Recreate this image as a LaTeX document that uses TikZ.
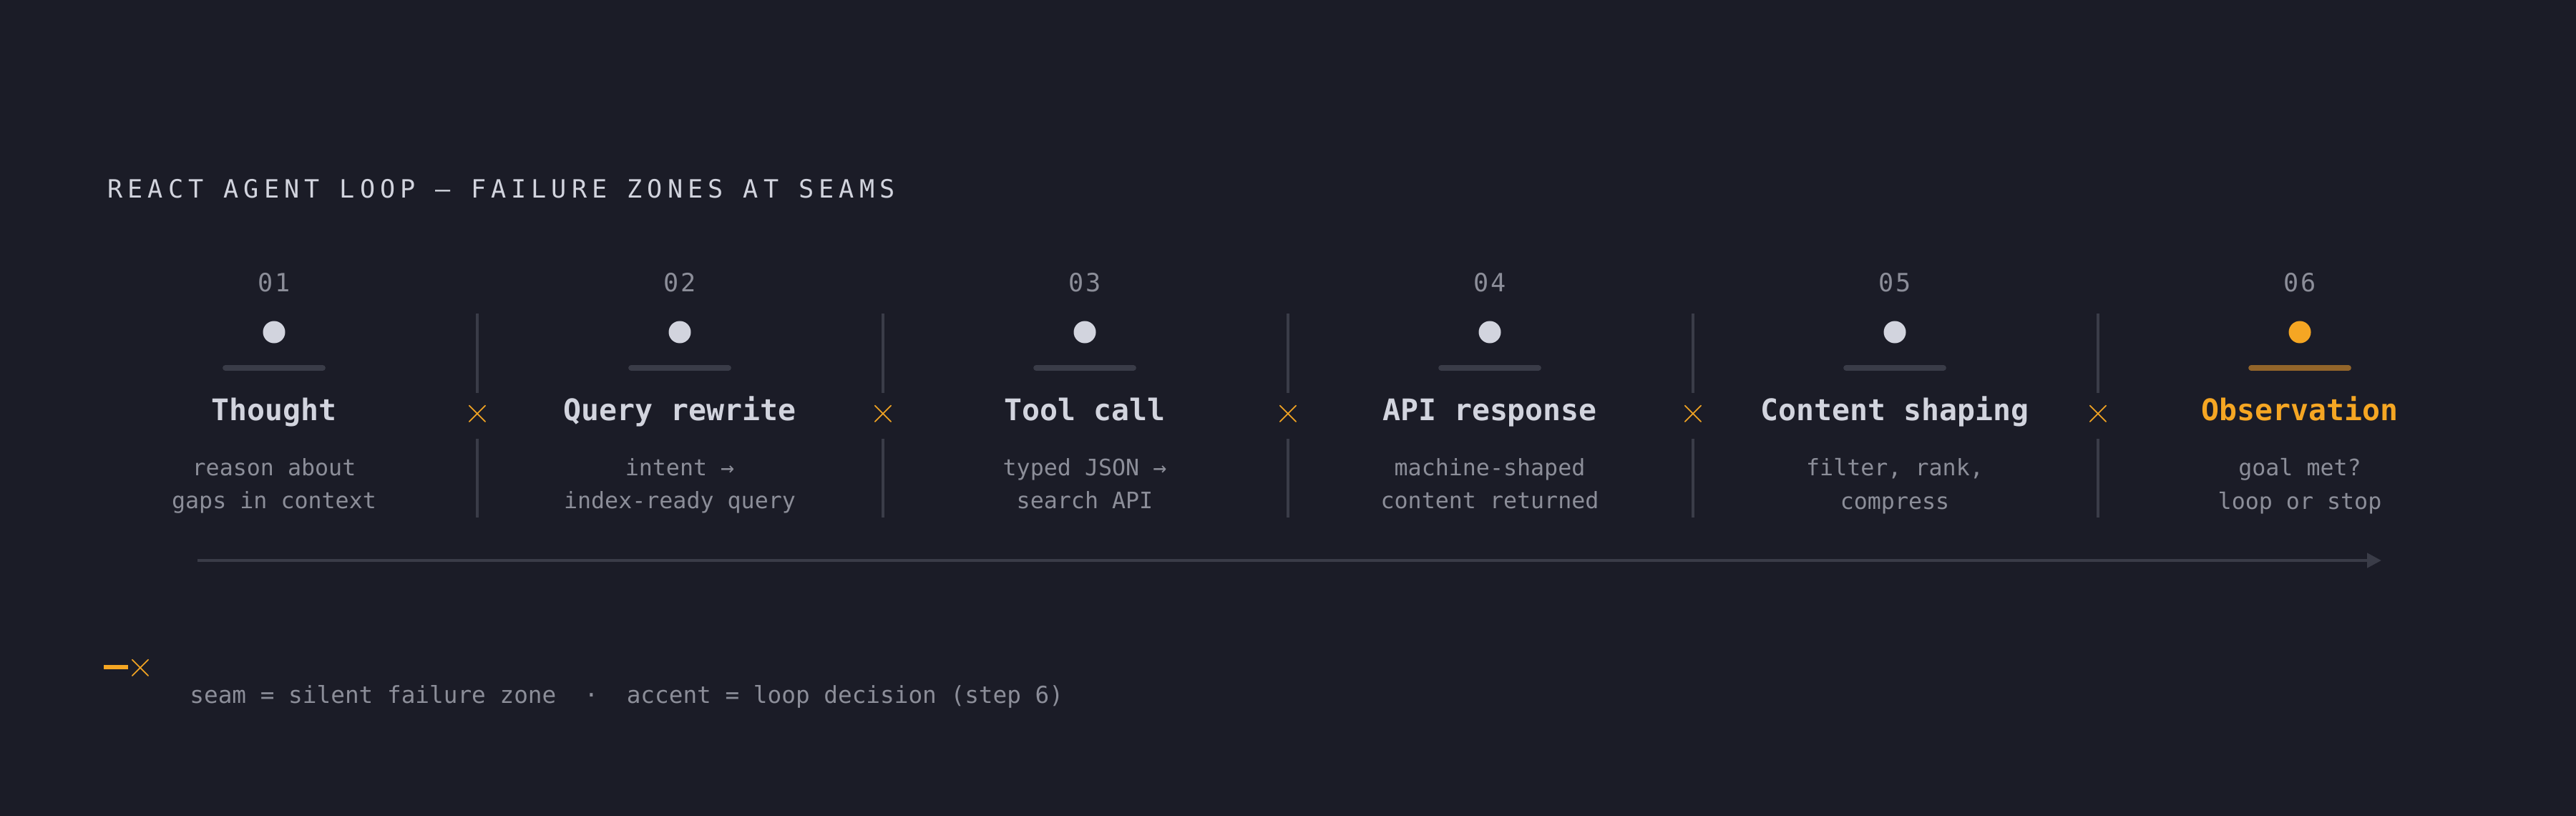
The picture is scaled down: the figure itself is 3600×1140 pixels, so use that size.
\documentclass[tikz,border=0pt]{standalone}
\usepackage{fontspec}
\setmonofont{DejaVu Sans Mono}
\usetikzlibrary{arrows.meta}
\definecolor{bgc}{HTML}{1B1C27}
\definecolor{inkc}{HTML}{D2D4DE}
\definecolor{dimc}{HTML}{8C8E99}
\definecolor{railc}{HTML}{3A3C48}
\definecolor{accc}{HTML}{F5A623}
\definecolor{accbar}{HTML}{93652A}
\tikzset{
  num/.style={text=dimc, font=\ttfamily\fontsize{10}{12}\selectfont\addfontfeature{LetterSpace=6}},
  head/.style={text=inkc, text height=0.3cm, text depth=0.08cm, font=\ttfamily\bfseries\fontsize{11.8}{14}\selectfont},
  desc/.style={text=dimc, align=center, font=\ttfamily\fontsize{9}{13.2}\selectfont},
  seam/.style={railc, line width=1pt},
  cross/.style={text=accc, font=\fontsize{15}{15}\selectfont},
  bar/.style={railc, line width=2.2pt, line cap=round},
  dot/.style={circle, fill=inkc, inner sep=0pt, minimum size=0.31cm},
}
\begin{document}
\begin{tikzpicture}[x=0.01cm,y=-0.01cm]
	\fill[bgc] (0,0) rectangle (3600,1140);
	\useasboundingbox (0,0) rectangle (3600,1140);
	\node[anchor=west, text=inkc, font=\ttfamily\fontsize{10}{12}\selectfont\addfontfeature{LetterSpace=20}] (title) at (138,264) {REACT AGENT LOOP — FAILURE ZONES AT SEAMS};
	% step 1
	\node[num] (n1) at (383,395) {01};
	\node[dot] (d1) at (383,464) {};
	\draw[bar] (315,514) -- (451,514);
	\node[head] (h1) at (383,576) {Thought};
	\node[desc, anchor=north] (t1) at (383,628) {reason about\\gaps in context};
	% step 2
	\node[num] (n2) at (950,395) {02};
	\node[dot] (d2) at (950,464) {};
	\draw[bar] (882,514) -- (1018,514);
	\node[head] (h2) at (950,576) {Query rewrite};
	\node[desc, anchor=north] (t2) at (950,628) {intent \textrightarrow\\index-ready query};
	% step 3
	\node[num] (n3) at (1516,395) {03};
	\node[dot] (d3) at (1516,464) {};
	\draw[bar] (1448,514) -- (1584,514);
	\node[head] (h3) at (1516,576) {Tool call};
	\node[desc, anchor=north] (t3) at (1516,628) {typed JSON \textrightarrow\\search API};
	% step 4
	\node[num] (n4) at (2082,395) {04};
	\node[dot] (d4) at (2082,464) {};
	\draw[bar] (2014,514) -- (2150,514);
	\node[head] (h4) at (2082,576) {API response};
	\node[desc, anchor=north] (t4) at (2082,628) {machine-shaped\\content returned};
	% step 5
	\node[num] (n5) at (2648,395) {05};
	\node[dot] (d5) at (2648,464) {};
	\draw[bar] (2580,514) -- (2716,514);
	\node[head] (h5) at (2648,576) {Content shaping};
	\node[desc, anchor=north] (t5) at (2648,628) {filter, rank,\\compress};
	% step 6
	\node[num] (n6) at (3214,395) {06};
	\node[dot, fill=accc] (d6) at (3214,464) {};
	\draw[bar, accbar] (3146,514) -- (3282,514);
	\node[head, text=accc] (h6) at (3214,576) {Observation};
	\node[desc, anchor=north] (t6) at (3214,628) {goal met?\\loop or stop};
	% seams
	\draw[seam] (667,438) -- (667,549);
	\draw[seam] (667,613) -- (667,723);
	\node[cross] (x1) at (667,579) {×};
	\draw[seam] (1234,438) -- (1234,549);
	\draw[seam] (1234,613) -- (1234,723);
	\node[cross] (x2) at (1234,579) {×};
	\draw[seam] (1800,438) -- (1800,549);
	\draw[seam] (1800,613) -- (1800,723);
	\node[cross] (x3) at (1800,579) {×};
	\draw[seam] (2366,438) -- (2366,549);
	\draw[seam] (2366,613) -- (2366,723);
	\node[cross] (x4) at (2366,579) {×};
	\draw[seam] (2932,438) -- (2932,549);
	\draw[seam] (2932,613) -- (2932,723);
	\node[cross] (x5) at (2932,579) {×};
	% flow
	\coordinate (fs) at (276,783);
	\coordinate (fe) at (3328,783);
	\draw[railc, line width=1.3pt, -{Triangle[length=0.2cm,width=0.2cm]}] (fs) -- (fe);
	% legend
	\draw[accc, line width=1.6pt] (145,932) -- (179,932);
	\node[cross] (lx) at (196,934) {×};
	\node[anchor=west, text=dimc, font=\ttfamily\fontsize{9.3}{12}\selectfont] (leg) at (253,973) {seam = silent failure zone~~·~~accent = loop decision (step 6)};
\end{tikzpicture}
\end{document}
